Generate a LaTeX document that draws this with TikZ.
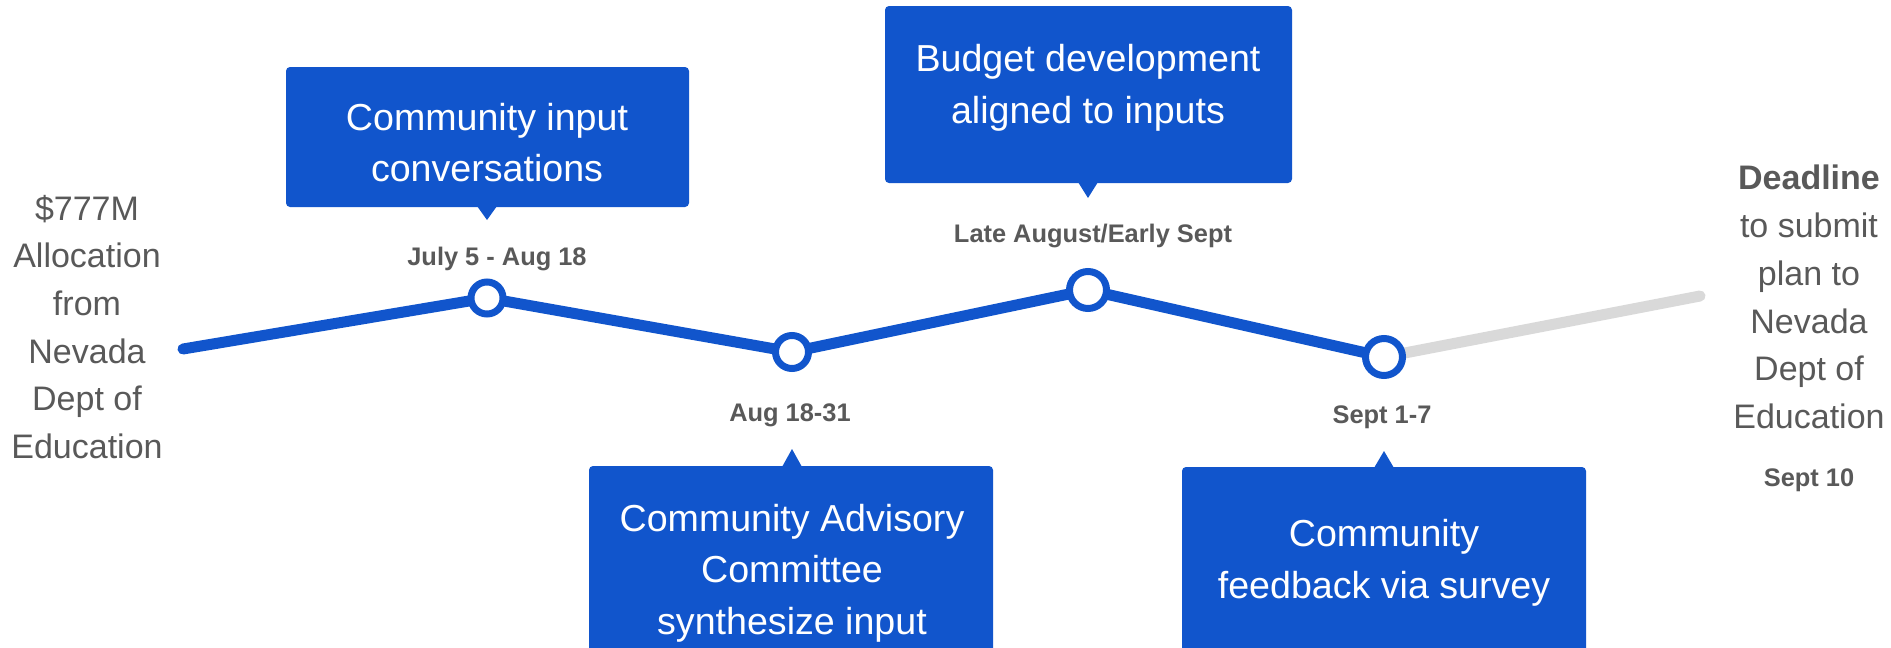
\documentclass[tikz,border=0pt]{standalone}
\usepackage{fontspec}
\setmainfont{Liberation Sans}
\definecolor{gblue}{HTML}{1155CC}
\definecolor{tgray}{HTML}{595959}
\definecolor{lgray}{HTML}{D9D9D9}
\tikzset{
  boxshape/.style={rectangle, rounded corners=4pt, fill=gblue, inner sep=0pt},
  boxtext/.style={text=white, align=center, inner sep=0pt, font=\fontsize{37.6}{51.5}\selectfont},
  datetext/.style={text=tgray, inner sep=0pt, font=\fontsize{25.4}{30}\selectfont\bfseries},
  sidetext/.style={text=tgray, align=center, inner sep=0pt, font=\fontsize{34}{47.7}\selectfont},
  dot/.style={circle, draw=gblue, line width=7pt, fill=white, inner sep=0pt},
  tl/.style={line width=11pt, line cap=round, line join=round},
}
\begin{document}
\begin{tikzpicture}[x=1pt,y=-1pt]
\useasboundingbox (0,0) rectangle (1891,648);
\clip (0,0) rectangle (1891,648);
\fill[white] (0,0) rectangle (1891,648);
% timeline points
\coordinate (s) at (183,349);
\coordinate (p1) at (487,298);
\coordinate (p2) at (792,352);
\coordinate (p3) at (1088,290);
\coordinate (p4) at (1384,357);
\coordinate (e) at (1700,296);
\draw[tl, lgray] (p4) -- (e);
\draw[tl, gblue] (s) -- (p1) -- (p2) -- (p3) -- (p4);
\node[dot, minimum size=32pt] (c1) at (p1) {};
\node[dot, minimum size=33pt] (c2) at (p2) {};
\node[dot, minimum size=37pt] (c3) at (p3) {};
\node[dot, minimum size=37pt] (c4) at (p4) {};
% boxes
\node[boxshape, minimum width=403pt, minimum height=140pt] (b1) at (487.5,137) {};
\fill[gblue] (477,206) -- (487,220) -- (497,206) -- cycle;
\node[boxtext] (t1) at (487,142.5) {Community input\\conversations};
\node[boxshape, minimum width=404pt, minimum height=214pt] (b2) at (791,573) {};
\fill[gblue] (782,467) -- (792,449) -- (802,467) -- cycle;
\node[boxtext] (t2) at (792,573) {Community Advisory\\Committee\\synthesize input};
\node[boxshape, minimum width=407pt, minimum height=177pt] (b3) at (1088.5,94.5) {};
\fill[gblue] (1078,182) -- (1088,198) -- (1098,182) -- cycle;
\node[boxtext] (t3) at (1088,88) {Budget development\\aligned to inputs};
\node[boxshape, minimum width=404pt, minimum height=200pt] (b4) at (1384,567) {};
\fill[gblue] (1374,468) -- (1384,451) -- (1394,468) -- cycle;
\node[boxtext] (t4) at (1384,563) {Community\\feedback via survey};
% dates
\node[datetext] (d1) at (497,259) {July 5 - Aug 18};
\node[datetext] (d2) at (790,415) {Aug 18-31};
\node[datetext] (d3) at (1093,236) {Late August/Early Sept};
\node[datetext] (d4) at (1382,417) {Sept 1-7};
% side texts
\node[sidetext] (left) at (87,327) {\$777M\\Allocation\\from\\Nevada\\Dept of\\Education};
\node[sidetext] (right) at (1809,297) {\textbf{Deadline}\\to submit\\plan to\\Nevada\\Dept of\\Education};
\node[datetext] (d5) at (1809,480) {Sept 10};
\end{tikzpicture}
\end{document}
